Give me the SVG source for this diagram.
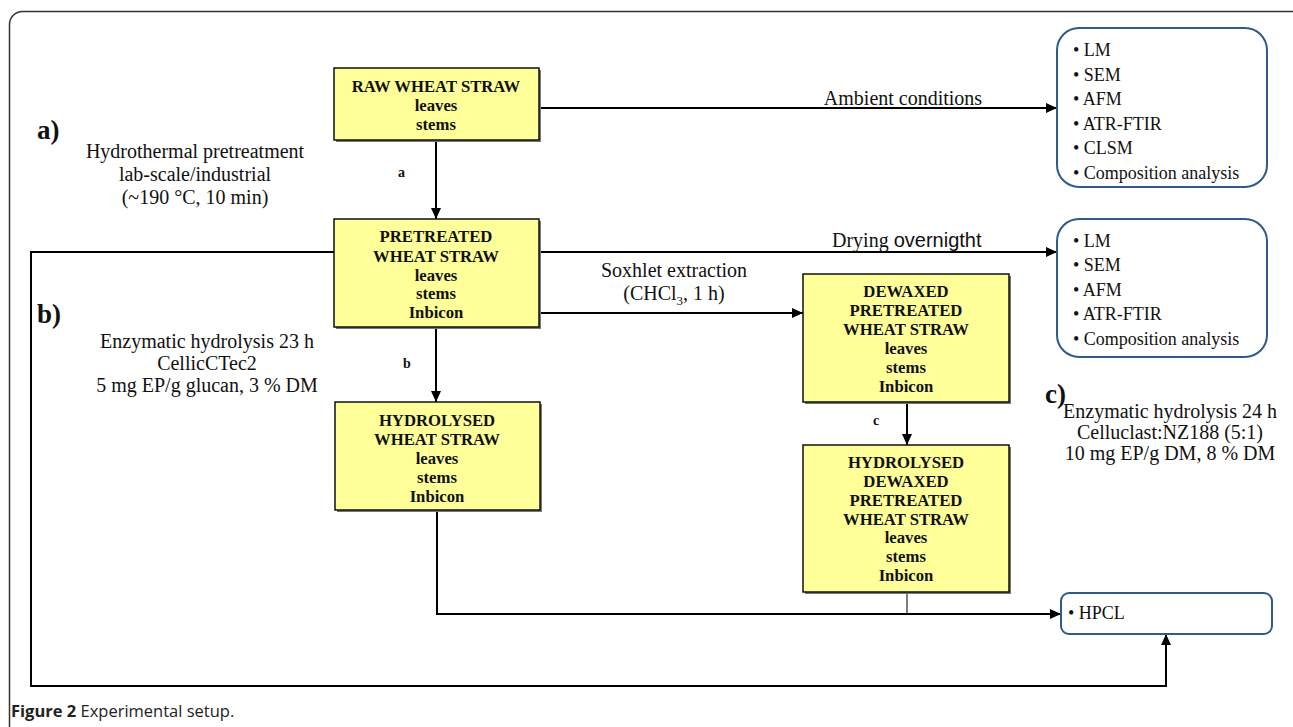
<svg xmlns="http://www.w3.org/2000/svg" width="1293" height="727" viewBox="0 0 1293 727">
<style>
.frame{fill:none;stroke:#333;stroke-width:1.5}
.box{fill:#FFFF99;stroke:#111;stroke-width:1.5}
.shadow{fill:#777}
.rbox{fill:#fff;stroke:#2E5A8C;stroke-width:2}
.bt{font-family:"Liberation Serif",serif;font-weight:bold;font-size:16.7px;text-anchor:middle;fill:#111}
.lt{font-family:"Liberation Serif",serif;font-size:20px;fill:#111}
.mid{text-anchor:middle}
.li{font-family:"Liberation Serif",serif;font-size:18px;fill:#111}
.big{font-family:"Liberation Serif",serif;font-weight:bold;font-size:27px;fill:#111}
.sm{font-family:"Liberation Serif",serif;font-weight:bold;font-size:14px;fill:#111}
.conn{fill:none;stroke:#000;stroke-width:2}
.thin{fill:none;stroke:#000;stroke-width:1}
.cap{font-family:"Open Sans",sans-serif;font-size:16.5px;fill:#222}
</style>
<defs>
<marker id="arr" markerUnits="userSpaceOnUse" markerWidth="12" markerHeight="10" refX="11" refY="5" orient="auto">
<path d="M0,0 L11,5 L0,10 z" fill="#000"/>
</marker>
</defs>
<rect class="frame" x="9.5" y="11.5" width="1300" height="740" rx="13"/>

<g id="connectors">
<path class="conn" d="M539,108 H1057" marker-end="url(#arr)"/>
<path class="conn" d="M436,140 V219" marker-end="url(#arr)"/>
<path class="conn" d="M539,252 H1057" marker-end="url(#arr)"/>
<path class="conn" d="M539,313 H803" marker-end="url(#arr)"/>
<path class="conn" d="M436,327 V402" marker-end="url(#arr)"/>
<path class="conn" d="M907,402 V445" marker-end="url(#arr)"/>
<path class="conn" d="M437,510 V614 H1061" marker-end="url(#arr)"/>
<path class="thin" d="M907,592 V614"/>
<path class="conn" d="M334,252 H31 V686 H1166 V634" marker-end="url(#arr)"/>
</g>

<g id="labels">
<text class="big" x="37" y="139">a)</text>
<text class="lt mid" x="195" y="158">Hydrothermal pretreatment</text>
<text class="lt mid" x="195" y="181">lab-scale/industrial</text>
<text class="lt mid" x="195" y="204">(~190 °C, 10 min)</text>
<text class="big" x="37" y="323">b)</text>
<text class="lt mid" x="207" y="348">Enzymatic hydrolysis 23 h</text>
<text class="lt mid" x="207" y="370">CellicCTec2</text>
<text class="lt mid" x="207" y="392">5 mg EP/g glucan, 3 % DM</text>
<text class="big" x="1045" y="403">c)</text>
<text class="lt mid" x="1170" y="418">Enzymatic hydrolysis 24 h</text>
<text class="lt mid" x="1170" y="439">Celluclast:NZ188 (5:1)</text>
<text class="lt mid" x="1170" y="460">10 mg EP/g DM, 8 % DM</text>
<text class="lt mid" x="903" y="105">Ambient conditions</text>
<text class="lt" x="832" y="247">Drying <tspan font-family="Liberation Sans, sans-serif">overnigtht</tspan></text>
<text class="lt mid" x="674" y="277">Soxhlet extraction</text>
<text class="lt mid" x="674" y="300">(CHCl<tspan font-size="13" dy="5">3</tspan><tspan dy="-5">, 1 h)</tspan></text>
<text class="sm" x="398" y="177">a</text>
<text class="sm" x="403" y="368">b</text>
<text class="sm" x="873" y="425">c</text>
</g>

<g id="raw">
<rect class="shadow" x="336" y="70" width="205" height="72"/>
<rect class="box" x="334" y="68" width="205" height="72"/>
<text class="bt" x="436" y="92">RAW WHEAT STRAW</text>
<text class="bt" x="436" y="111">leaves</text>
<text class="bt" x="436" y="130">stems</text>
</g>

<g id="pretreated">
<rect class="shadow" x="336" y="221" width="205" height="108"/>
<rect class="box" x="334" y="219" width="205" height="108"/>
<text class="bt" x="436" y="242">PRETREATED</text>
<text class="bt" x="436" y="262">WHEAT STRAW</text>
<text class="bt" x="436" y="281">leaves</text>
<text class="bt" x="436" y="299">stems</text>
<text class="bt" x="436" y="318">Inbicon</text>
</g>

<g id="hydrolysed">
<rect class="shadow" x="337" y="404" width="205" height="108"/>
<rect class="box" x="335" y="402" width="205" height="108"/>
<text class="bt" x="437" y="426">HYDROLYSED</text>
<text class="bt" x="437" y="445">WHEAT STRAW</text>
<text class="bt" x="437" y="464">leaves</text>
<text class="bt" x="437" y="483">stems</text>
<text class="bt" x="437" y="502">Inbicon</text>
</g>

<g id="dewaxed">
<rect class="shadow" x="805" y="276" width="206" height="128"/>
<rect class="box" x="803" y="274" width="206" height="128"/>
<text class="bt" x="906" y="297">DEWAXED</text>
<text class="bt" x="906" y="316">PRETREATED</text>
<text class="bt" x="906" y="335">WHEAT STRAW</text>
<text class="bt" x="906" y="354">leaves</text>
<text class="bt" x="906" y="373">stems</text>
<text class="bt" x="906" y="392">Inbicon</text>
</g>

<g id="hydrolysed-dewaxed">
<rect class="shadow" x="805" y="447" width="206" height="147"/>
<rect class="box" x="803" y="445" width="206" height="147"/>
<text class="bt" x="906" y="468">HYDROLYSED</text>
<text class="bt" x="906" y="487">DEWAXED</text>
<text class="bt" x="906" y="506">PRETREATED</text>
<text class="bt" x="906" y="525">WHEAT STRAW</text>
<text class="bt" x="906" y="543">leaves</text>
<text class="bt" x="906" y="562">stems</text>
<text class="bt" x="906" y="581">Inbicon</text>
</g>

<g id="analysis1">
<rect class="rbox" x="1057" y="28" width="210" height="159" rx="22"/>
<text class="li" x="1073" y="56">• LM</text>
<text class="li" x="1073" y="81">• SEM</text>
<text class="li" x="1073" y="105">• AFM</text>
<text class="li" x="1073" y="130">• ATR-FTIR</text>
<text class="li" x="1073" y="154">• CLSM</text>
<text class="li" x="1073" y="179">• Composition analysis</text>
</g>

<g id="analysis2">
<rect class="rbox" x="1057" y="219" width="210" height="138" rx="22"/>
<text class="li" x="1073" y="247">• LM</text>
<text class="li" x="1073" y="271">• SEM</text>
<text class="li" x="1073" y="296">• AFM</text>
<text class="li" x="1073" y="320">• ATR-FTIR</text>
<text class="li" x="1073" y="345">• Composition analysis</text>
</g>

<g id="hpcl">
<rect class="rbox" x="1061" y="593" width="211" height="41" rx="8"/>
<text class="li" x="1068" y="619" font-size="16">• HPCL</text>
</g>

<text class="cap" x="11" y="717"><tspan font-weight="bold">Figure 2</tspan> Experimental setup.</text>
</svg>
